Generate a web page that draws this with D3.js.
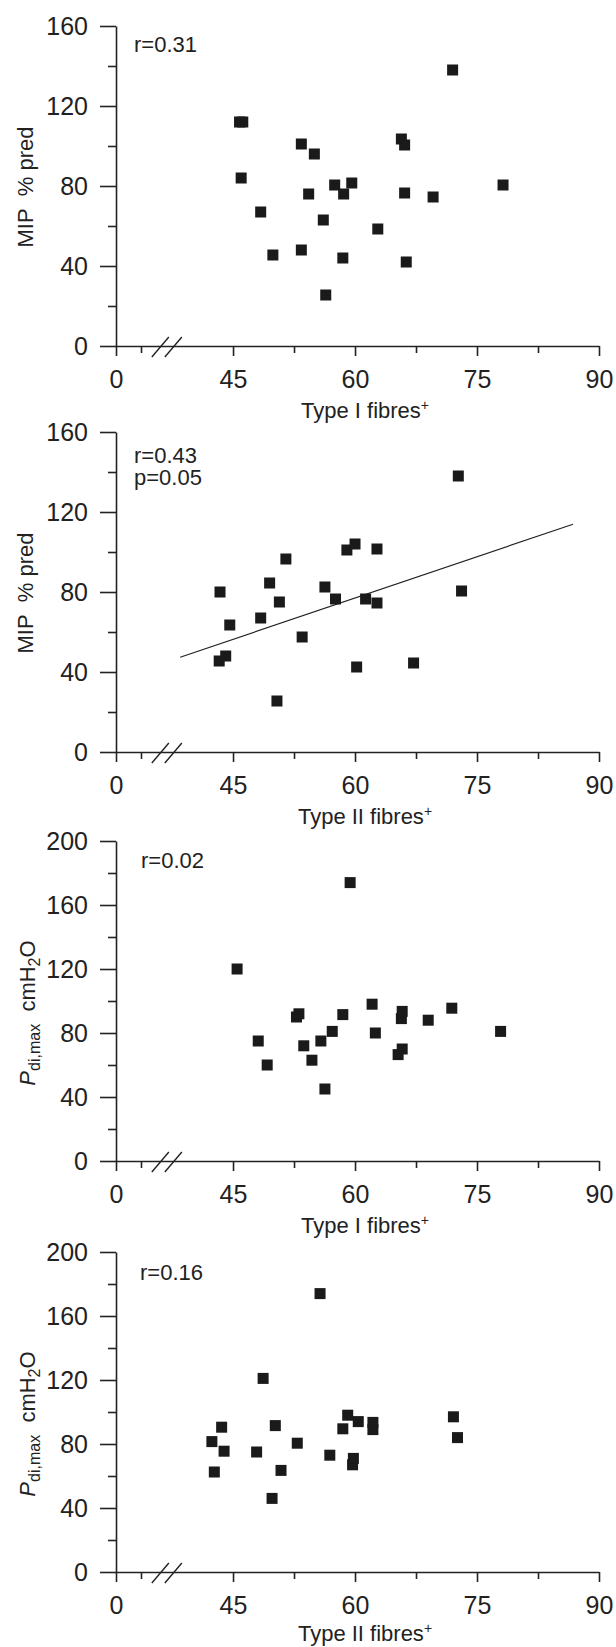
<!DOCTYPE html>
<html>
<head>
<meta charset="utf-8">
<script src="https://cdn.jsdelivr.net/npm/d3@7"></script>
<style>
  body { margin: 0; background: #fff; }
  svg { display: block; }
</style>
</head>
<body>
<script>
// MIP % pred vs Type I fibres
const p1X = [45.8, 46.2, 46.0, 48.4, 49.9, 53.4, 53.4, 54.3, 55.0, 56.1, 56.4, 57.5, 58.6, 58.5, 59.6, 62.8, 65.7, 66.1, 66.1, 66.3, 69.6, 72.0, 78.2]
const p1Y = [112, 112, 84, 67, 45.5, 101, 48, 76, 96, 63, 25.5, 80.5, 76, 44, 81.5, 58.5, 103.5, 100.5, 76.5, 42, 74.5, 138, 80.5]

// MIP % pred vs Type II fibres
const p2X = [43.4, 43.3, 44.1, 44.6, 48.4, 49.5, 50.7, 50.4, 51.5, 53.5, 56.3, 57.6, 59.0, 60.0, 60.2, 61.3, 62.7, 62.7, 67.2, 72.7, 73.1]
const p2Y = [80, 45.5, 48, 63.5, 67, 84.5, 75, 25.5, 96.5, 57.5, 82.5, 76.5, 101, 104, 42.5, 76.5, 101.5, 74.5, 44.5, 138, 80.5]
const p2LineX = [38.5, 86.8]
const p2LineY = [47.4, 113.9]

// Pdi,max vs Type I fibres
const p3X = [45.5, 48.1, 49.2, 52.8, 53.1, 53.7, 54.7, 55.8, 56.3, 57.2, 58.5, 59.4, 62.1, 62.5, 65.3, 65.7, 65.8, 65.8, 69.0, 71.9, 77.9]
const p3Y = [120, 75, 60, 90, 92, 72, 63, 75, 45, 81, 91.5, 174, 98, 80, 66.5, 89, 93.5, 70, 88, 95.5, 81]

// Pdi,max vs Type II fibres
const p4X = [42.4, 42.7, 43.6, 43.9, 47.9, 48.7, 49.8, 50.2, 50.9, 52.9, 55.7, 56.9, 58.5, 59.1, 59.7, 59.8, 60.4, 62.2, 62.2, 72.1, 72.6]
const p4Y = [81.5, 62.5, 90.5, 75.5, 75, 121, 46, 91.5, 63.5, 80.5, 174, 73, 89.5, 98, 67, 71, 94, 93.5, 89, 97, 84]

const xMajor = [0, 45, 60, 75, 90]
const xMinor = [7.5, 52.5, 67.5, 82.5]
const mipMajor = [0, 40, 80, 120, 160]
const mipMinor = [20, 60, 100, 140]
const pdiMajor = [0, 40, 80, 120, 160, 200]
const pdiMinor = [20, 60, 100, 140, 180]
const rLabels = [['r=0.31'], ['r=0.43', 'p=0.05'], ['r=0.02'], ['r=0.16']]

const W = 616, H = 1647
const tickFont = '"Liberation Sans Narrow", "Liberation Sans", Arial, sans-serif'
const textFont = '"Liberation Sans", Arial, sans-serif'

const svg = d3.select('body').append('svg')
    .attr('width', W)
    .attr('height', H)

// broken x axis: 0..7.5 squeezed before the break, 35..90 linear
const x = d3.scaleLinear()
    .domain([0, 7.5, 35, 90])
    .range([116, 141, 151.7, 599])

const panels = [
    {top: 26, xs: p1X, ys: p1Y, yMax: 160, major: mipMajor, minor: mipMinor, yTitle: 'mip', xTitle: 'I', r: rLabels[0], rx: 134, ry: 26, xty: 72},
    {top: 432, xs: p2X, ys: p2Y, yMax: 160, major: mipMajor, minor: mipMinor, yTitle: 'mip', xTitle: 'II', r: rLabels[1], rx: 134, ry: 31, xty: 72, line: true},
    {top: 841, xs: p3X, ys: p3Y, yMax: 200, major: pdiMajor, minor: pdiMinor, yTitle: 'pdi', xTitle: 'I', r: rLabels[2], rx: 141, ry: 27, xty: 72},
    {top: 1252, xs: p4X, ys: p4Y, yMax: 200, major: pdiMajor, minor: pdiMinor, yTitle: 'pdi', xTitle: 'II', r: rLabels[3], rx: 140, ry: 28, xty: 69}
]

const plotH = 320

panels.forEach(p => {
    const bottom = p.top + plotH
    const y = d3.scaleLinear().domain([0, p.yMax]).range([bottom, p.top])
    const g = svg.append('g')

    // y axis
    g.append('g')
        .attr('transform', `translate(${x(0)},0)`)
        .call(d3.axisLeft(y).tickValues(p.major).tickSize(16).tickSizeOuter(0).tickPadding(12))
    g.append('g')
        .attr('transform', `translate(${x(0)},0)`)
        .call(d3.axisLeft(y).tickValues(p.minor).tickSize(8).tickSizeOuter(0).tickFormat(''))
        .select('.domain').remove()

    // x axis
    g.append('g')
        .attr('transform', `translate(0,${bottom})`)
        .call(d3.axisBottom(x).tickValues(xMajor).tickSize(10).tickSizeOuter(0).tickPadding(14))
    g.append('g')
        .attr('transform', `translate(0,${bottom})`)
        .call(d3.axisBottom(x).tickValues(xMinor).tickSize(7).tickSizeOuter(0).tickFormat(''))
        .select('.domain').remove()

    g.selectAll('.tick text')
        .attr('font-family', tickFont)
        .attr('font-size', 25)
        .attr('fill', '#222')
    g.selectAll('.domain, .tick line')
        .attr('stroke', '#222')
        .attr('stroke-width', 1.6)

    // axis break marks
    const breakAt = [36.0, 37.6]
    g.selectAll('line.brk')
        .data(breakAt)
        .enter()
        .append('line')
        .attr('class', 'brk')
        .attr('x1', d => x(d) - 8)
        .attr('x2', d => x(d) + 9)
        .attr('y1', bottom + 11)
        .attr('y2', bottom - 9)
        .attr('stroke', '#222')
        .attr('stroke-width', 1.4)

    // regression line
    if (p.line) {
        g.append('line')
            .attr('x1', x(p2LineX[0]))
            .attr('y1', y(p2LineY[0]))
            .attr('x2', x(p2LineX[1]))
            .attr('y2', y(p2LineY[1]))
            .attr('stroke', '#222')
            .attr('stroke-width', 1.2)
    }

    // points
    const pts = p.xs.map((v, i) => ({x: v, y: p.ys[i]}))
    const s = 11
    g.selectAll('rect')
        .data(pts)
        .enter()
        .append('rect')
        .attr('x', d => x(d.x) - s / 2)
        .attr('y', d => y(d.y) - s / 2)
        .attr('width', s)
        .attr('height', s)
        .attr('fill', '#1a1a1a')

    // r / p text
    const rt = g.append('text')
        .attr('font-family', textFont)
        .attr('font-size', 22)
        .attr('fill', '#222')
    rt.selectAll('tspan')
        .data(p.r)
        .enter()
        .append('tspan')
        .attr('x', p.rx)
        .attr('y', (d, i) => p.top + p.ry + i * 22)
        .text(d => d)

    // x title
    const xt = g.append('text')
        .attr('x', 365)
        .attr('y', bottom + p.xty)
        .attr('text-anchor', 'middle')
        .attr('font-family', textFont)
        .attr('font-size', 22)
        .attr('fill', '#222')
    xt.append('tspan').text(`Type ${p.xTitle} fibres`)
    xt.append('tspan').attr('dy', -8).attr('font-size', 14).text('+')

    // y title
    const mid = (p.top + bottom) / 2
    const yt = g.append('text')
        .attr('font-family', textFont)
        .attr('font-size', 22)
        .attr('fill', '#222')
        .attr('text-anchor', 'middle')
    if (p.yTitle === 'mip') {
        yt.attr('transform', `translate(33,${mid + 1}) rotate(-90)`)
        yt.append('tspan').text('MIP\u00a0\u00a0% pred')
    } else {
        yt.attr('transform', `translate(35,${mid + 12}) rotate(-90)`)
        yt.append('tspan').attr('font-style', 'italic').text('P')
        yt.append('tspan').attr('font-size', 16).attr('dy', 5).text('di,max')
        yt.append('tspan').attr('dy', -5).text('\u00a0\u00a0cmH')
        yt.append('tspan').attr('font-size', 16).attr('dy', 5).text('2')
        yt.append('tspan').attr('dy', -5).text('O')
    }
})
</script>
</body>
</html>
